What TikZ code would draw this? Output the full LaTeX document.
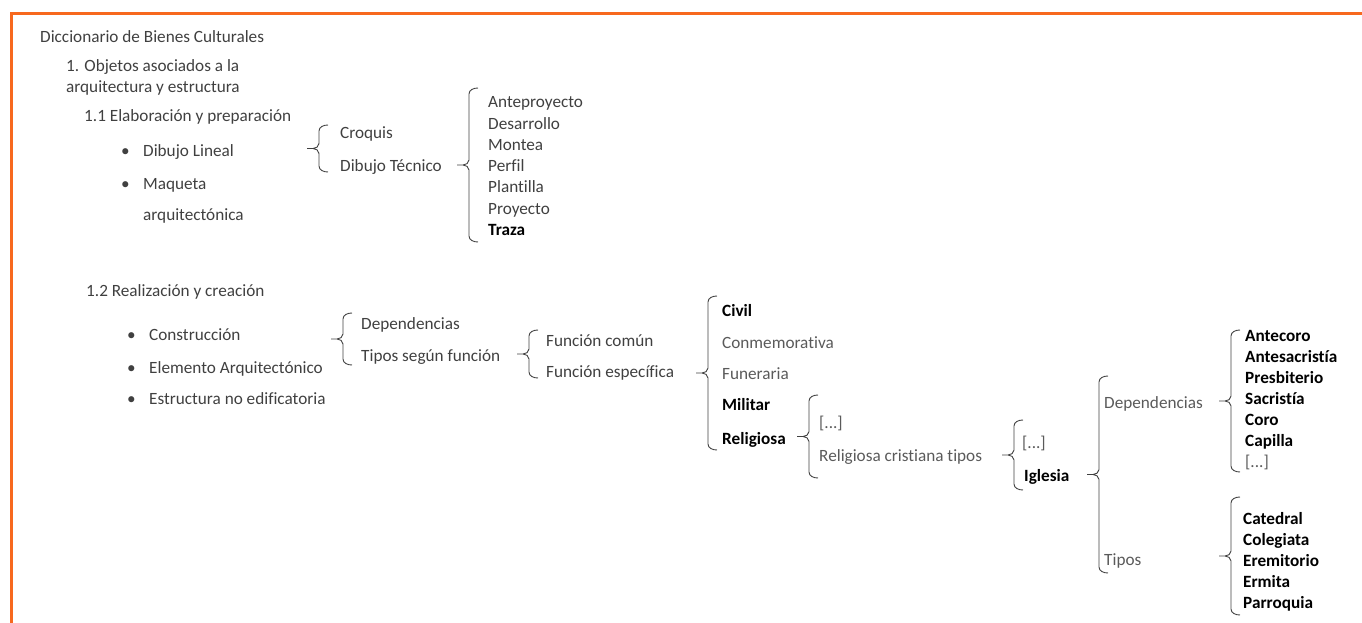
\documentclass[tikz,border=0pt]{standalone}
\usepackage{fontspec}
\setmainfont{Carlito}[Ligatures={NoCommon}]
\usepackage[svgnames]{xcolor}
\usetikzlibrary{calc}

\definecolor{naranja}{HTML}{F7681E}
\definecolor{texto}{HTML}{404040}
\definecolor{claro}{HTML}{5A5A5A}

\tikzset{
  item/.style={anchor=west, inner sep=0pt, text height=15pt, text depth=1pt,
    text=texto, font=\fontsize{17.2}{20}\selectfont},
  fuerte/.style={item, text=black, font=\fontsize{17.2}{20}\selectfont\bfseries},
  suave/.style={item, text=claro},
  lnk/.style={draw=texto, line width=0.9pt},
}

% curly brace: #1 upper end, #2 lower end (hook side), tip to the left
\newcommand{\llave}[2]{%
  \draw[lnk] let \p1=(#1), \p2=(#2), \p3=($(#1)!0.5!(#2)$) in
    (\x1,\y1) to[out=180,in=90] (\x1-9pt,\y1-6pt) -- (\x1-9pt,\y3+5pt)
    to[out=-90,in=0] (\x1-15pt,\y3) -- (\x1-21pt,\y3) -- (\x1-15pt,\y3)
    to[out=0,in=90] (\x1-9pt,\y3-5pt) -- (\x1-9pt,\y2+6pt)
    to[out=-90,in=180] (\x1,\y2);}

\begin{document}
\begin{tikzpicture}[x=1pt, y=-1pt]
\useasboundingbox (0,0) rectangle (1362,623);
\draw[naranja, line width=3pt] (11,623) -- (11,14) -- (1362,14);

% 1.1
\node[item] (dic) at (40,36) {Diccionario de Bienes Culturales};
\node[item] (obj) at (66,65) {1. Objetos asociados a la};
\node[item] (obj2) at (66,86) {arquitectura y estructura};
\node[item] (elab) at (84,115) {1.1 Elaboración y preparación};
\node[item] (p1) at (121,150) {\textbullet};
\node[item] (dlin) at (143,150) {Dibujo Lineal};
\node[item] (p2) at (121,182) {\textbullet};
\node[item] (maq) at (143,182) {Maqueta};
\node[item] (maq2) at (143,213) {arquitectónica};

\node[item] (croq) at (340,132) {Croquis};
\node[item] (dtec) at (340,164) {Dibujo Técnico};
\llave{$(croq.west)+(-12,-7)$}{$(dtec.west)+(-12,8)$}

\foreach \nom [count=\i from 0] in {Anteproyecto, Desarrollo, Montea, Perfil, Plantilla, Proyecto}
  \node[item] (dt\i) at (488,101+21.2*\i) {\nom};
\node[fuerte] (dt6) at (488,228) {Traza};
\llave{$(dt0.west)+(-10,-13)$}{$(dt6.west)+(-10,14)$}

% 1.2
\node[item] (real) at (86,289) {1.2 Realización y creación};
\node[item] (p3) at (127,333) {\textbullet};
\node[item] (cons) at (149,333) {Construcción};
\node[item] (p4) at (127,366) {\textbullet};
\node[item] (earq) at (149,366) {Elemento Arquitectónico};
\node[item] (p5) at (127,397) {\textbullet};
\node[item] (estr) at (149,397) {Estructura no edificatoria};

\node[item] (dep) at (361,322) {Dependencias};
\node[item] (tsf) at (361,354) {Tipos según función};
\llave{$(dep.west)+(-9,-9)$}{$(tsf.west)+(-9,11)$}

\node[item] (fcom) at (546,339) {Función común};
\node[item] (fesp) at (546,370) {Función específica};
\llave{$(fcom.west)+(-8,-9)$}{$(fesp.west)+(-8,8)$}

\node[fuerte] (civ) at (722,309) {Civil};
\node[suave] (conm) at (722,341) {Conmemorativa};
\node[suave] (fun) at (722,372) {Funeraria};
\node[fuerte] (mil) at (722,403) {Militar};
\node[fuerte] (rel) at (722,437) {Religiosa};
\llave{$(civ.west)+(-5,-13)$}{$(rel.west)+(-5,13)$}

\node[suave] (etc1) at (819,421) {[...]};
\node[suave] (rct) at (819,454) {Religiosa cristiana tipos};
\llave{$(etc1.west)+(-1,-26)$}{$(rct.west)+(-1,24)$}

\node[suave] (etc2) at (1022,441) {[...]};
\node[fuerte] (igl) at (1024,474) {Iglesia};
\llave{$(etc2.west)+(1,-21)$}{$(igl.west)+(-1,16)$}

\node[suave] (idep) at (1104,401) {Dependencias};
\node[suave] (itip) at (1104,558) {Tipos};
\llave{$(idep.west)+(4,-25)$}{$(itip.west)+(4,15)$}

\foreach \nom [count=\i from 0] in {Antecoro, Antesacristía, Presbiterio, Sacristía, Coro, Capilla}
  \node[fuerte] (de\i) at (1245,334+21*\i) {\nom};
\node[suave] (de6) at (1245,460) {[...]};
\llave{$(de0.west)+(-5,-4)$}{$(de6.west)+(-5,12)$}

\foreach \nom [count=\i from 0] in {Catedral, Colegiata, Eremitorio, Ermita, Parroquia}
  \node[fuerte] (ti\i) at (1243,517+21*\i) {\nom};
\llave{$(ti0.west)+(-3,-20)$}{$(ti4.west)+(-3,14)$}
\end{tikzpicture}
\end{document}
